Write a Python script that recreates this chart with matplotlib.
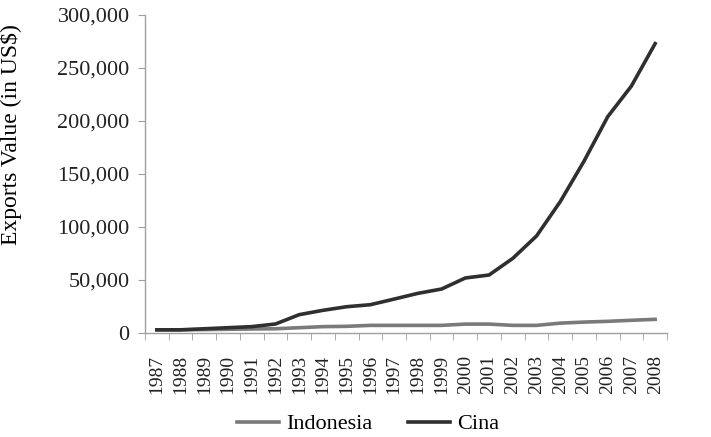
import numpy as np
import matplotlib.pyplot as plt
from matplotlib.ticker import FuncFormatter, FixedLocator

plt.rcParams['font.family'] = ['Liberation Serif', 'DejaVu Serif']

# data
years = [str(y) for y in range(1987, 2009)]
indonesia = [3000, 3000, 3200, 3500, 3800, 4000, 5000, 6000, 6300, 7200, 7200,
             7200, 7200, 8400, 8400, 7200, 7200, 9300, 10300, 11000, 12000, 12900]
cina = [3000, 3000, 4000, 5000, 6000, 8500, 17300, 21400, 24800, 26700, 32000,
        37400, 41500, 51900, 54700, 70400, 91500, 123900, 162000, 204000, 233000, 273000]

fig = plt.figure(figsize=(7.11, 4.37), dpi=100)
ax = fig.add_axes([145/711, 104/437, 522/711, 318/437])

x = np.arange(len(years))
ax.plot(x, indonesia, color='#7a7a7a', lw=2.6, label='Indonesia')
ax.plot(x, cina, color='#2f2f2f', lw=2.6, label='Cina')

ax.set_xlim(-0.5, len(years) - 0.5)
ax.set_ylim(0, 300000)
ax.set_yticks(np.arange(0, 300001, 50000))
ax.yaxis.set_major_formatter(FuncFormatter(lambda v, p: f'{int(v):,}'))

# labels at category centres, tick marks at boundaries
ax.set_xticks(x)
ax.set_xticklabels(years, rotation=90)
ax.xaxis.set_minor_locator(FixedLocator(np.arange(-0.5, len(years), 1)))
ax.tick_params(axis='x', which='major', length=0, labelsize=14, pad=16, labelcolor='#222222')
ax.tick_params(axis='x', which='minor', length=5, color='#a0a0a0', direction='out')
ax.tick_params(axis='y', length=5, color='#a0a0a0', labelsize=16, pad=6, labelcolor='#222222')

for s in ['top', 'right']:
    ax.spines[s].set_visible(False)
for s in ['left', 'bottom']:
    ax.spines[s].set_color('#a0a0a0')
    ax.spines[s].set_linewidth(1.0)

ax.set_ylabel('Exports Value (in US$)', fontsize=17)
ax.yaxis.set_label_coords(-0.235, 0.625)

fig.legend(loc='center', bbox_to_anchor=(368/711, 1 - 424/437), ncol=2, frameon=False,
           fontsize=16, handlelength=1.9, columnspacing=1.6, handletextpad=0.3)

fig.savefig('out.png', dpi=100)
